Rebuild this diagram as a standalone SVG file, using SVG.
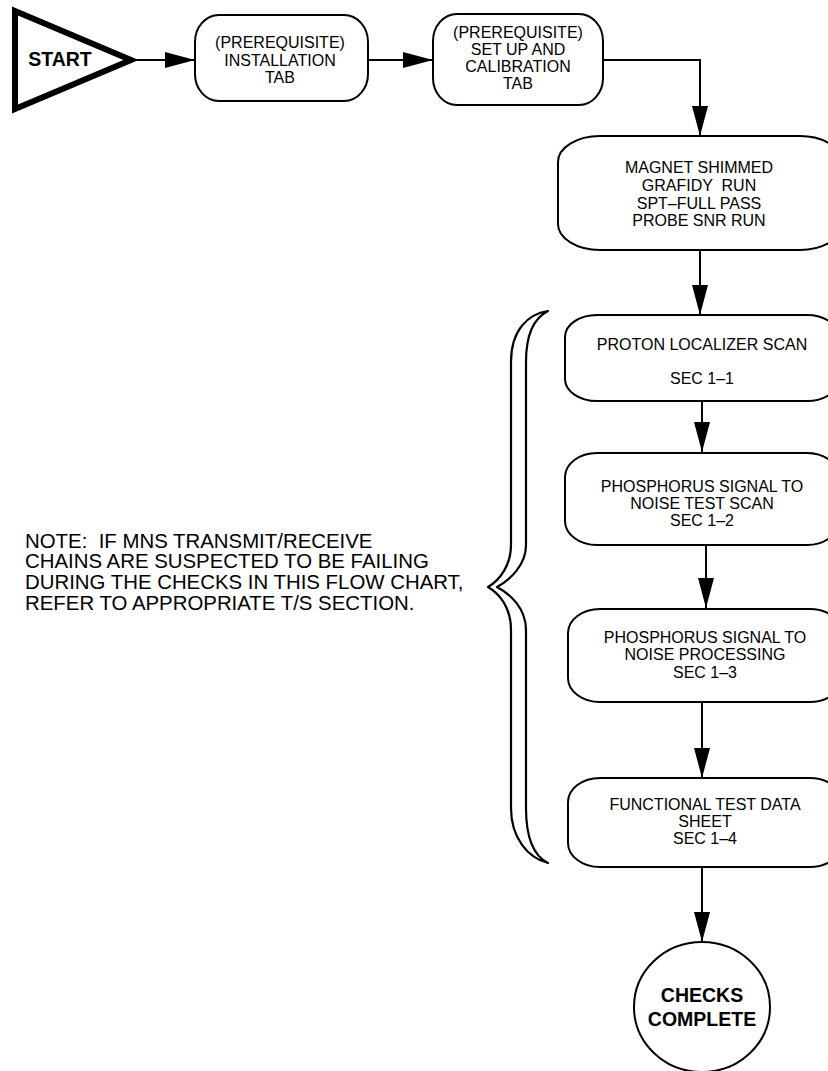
<svg xmlns="http://www.w3.org/2000/svg" width="828" height="1071" viewBox="0 0 828 1071">
  <style>
    .box { fill: #fff; stroke: #000; stroke-width: 2; }
    .lbl { font-family: "Liberation Sans", Arial, sans-serif; font-size: 16px; fill: #000; text-anchor: middle; }
    .bold { font-family: "Liberation Sans", Arial, sans-serif; font-size: 19.5px; font-weight: bold; fill: #000; text-anchor: middle; }
    .note { font-family: "Liberation Sans", Arial, sans-serif; font-size: 20.4px; fill: #000; }
    .wire { fill: none; stroke: #000; stroke-width: 2; }
  </style>
  <defs>
    <marker id="head" viewBox="0 0 30 16" refX="30" refY="8" markerWidth="30" markerHeight="16" markerUnits="userSpaceOnUse" orient="auto">
      <path d="M0,0 L30,8 L0,16 z" fill="#000"/>
    </marker>
  </defs>
  <rect width="828" height="1071" fill="#fff"/>

  <!-- connectors -->
  <g id="connectors">
    <path class="wire" d="M136,60 H195" marker-end="url(#head)"/>
    <path class="wire" d="M368,60 H433" marker-end="url(#head)"/>
    <path class="wire" d="M603,60 H700 V136" marker-end="url(#head)"/>
    <path class="wire" d="M700,250 V315" marker-end="url(#head)"/>
    <path class="wire" d="M702,401 V452" marker-end="url(#head)"/>
    <path class="wire" d="M706,545 V608" marker-end="url(#head)"/>
    <path class="wire" d="M702,702 V778" marker-end="url(#head)"/>
    <path class="wire" d="M702,867 V942" marker-end="url(#head)"/>
  </g>

  <g id="start">
    <polygon points="15,11 131,60 15,109" fill="#fff" stroke="#000" stroke-width="6"/>
    <text class="bold" x="60" y="66">START</text>
  </g>

  <g id="installation">
    <rect class="box" x="195" y="15" width="173" height="86" rx="24" ry="27"/>
    <text class="lbl" x="280" y="48">(PREREQUISITE)</text>
    <text class="lbl" x="280" y="66">INSTALLATION</text>
    <text class="lbl" x="280" y="83">TAB</text>
  </g>

  <g id="setup">
    <rect class="box" x="433" y="14" width="170" height="91" rx="24" ry="27"/>
    <text class="lbl" x="518" y="38">(PREREQUISITE)</text>
    <text class="lbl" x="518" y="55">SET UP AND</text>
    <text class="lbl" x="518" y="72">CALIBRATION</text>
    <text class="lbl" x="518" y="89">TAB</text>
  </g>

  <g id="magnet">
    <rect class="box" x="558" y="136" width="284" height="114" rx="42" ry="26"/>
    <text class="lbl" x="699" y="173">MAGNET SHIMMED</text>
    <text class="lbl" x="699" y="191" xml:space="preserve">GRAFIDY  RUN</text>
    <text class="lbl" x="699" y="209">SPT–FULL PASS</text>
    <text class="lbl" x="699" y="226">PROBE SNR RUN</text>
  </g>

  <g id="proton">
    <rect class="box" x="565" y="315" width="274" height="86" rx="32" ry="22"/>
    <text class="lbl" x="702" y="350">PROTON LOCALIZER SCAN</text>
    <text class="lbl" x="702" y="384">SEC 1–1</text>
  </g>

  <g id="phos-scan">
    <rect class="box" x="565" y="453" width="274" height="92" rx="32" ry="24"/>
    <text class="lbl" x="702" y="492">PHOSPHORUS SIGNAL TO</text>
    <text class="lbl" x="702" y="509">NOISE TEST SCAN</text>
    <text class="lbl" x="702" y="526">SEC 1–2</text>
  </g>

  <g id="phos-proc">
    <rect class="box" x="568" y="609" width="274" height="93" rx="32" ry="24"/>
    <text class="lbl" x="705" y="643">PHOSPHORUS SIGNAL TO</text>
    <text class="lbl" x="705" y="660">NOISE PROCESSING</text>
    <text class="lbl" x="705" y="678">SEC 1–3</text>
  </g>

  <g id="functional">
    <rect class="box" x="568" y="778" width="274" height="89" rx="32" ry="24"/>
    <text class="lbl" x="705" y="810">FUNCTIONAL TEST DATA</text>
    <text class="lbl" x="705" y="827">SHEET</text>
    <text class="lbl" x="705" y="844">SEC 1–4</text>
  </g>

  <g id="complete">
    <ellipse cx="702" cy="1007" rx="68" ry="65" fill="#fff" stroke="#000" stroke-width="2"/>
    <text class="bold" x="702" y="1002">CHECKS</text>
    <text class="bold" x="702" y="1026">COMPLETE</text>
  </g>

  <!-- outlined curly brace grouping the test steps -->
  <g id="brace">
    <path fill="#fff" stroke="#000" stroke-width="2.2" stroke-linejoin="round"
      d="M548,311 C528,314 511,330 511,362 V545 C511,565 500,580 488,587 C500,594 511,608 511,630 V808 C511,838 528,858 548,863
         C534,856 526,838 526,808 V630 C526,608 510,594 497,587 C510,580 526,565 526,545 V362 C526,333 534,318 548,311 Z"/>
  </g>

  <g id="note">
    <text class="note" x="25" y="548" xml:space="preserve">NOTE:  IF MNS TRANSMIT/RECEIVE</text>
    <text class="note" x="25" y="568">CHAINS ARE SUSPECTED TO BE FAILING</text>
    <text class="note" x="25" y="589">DURING THE CHECKS IN THIS FLOW CHART,</text>
    <text class="note" x="25" y="610">REFER TO APPROPRIATE T/S SECTION.</text>
  </g>
</svg>
